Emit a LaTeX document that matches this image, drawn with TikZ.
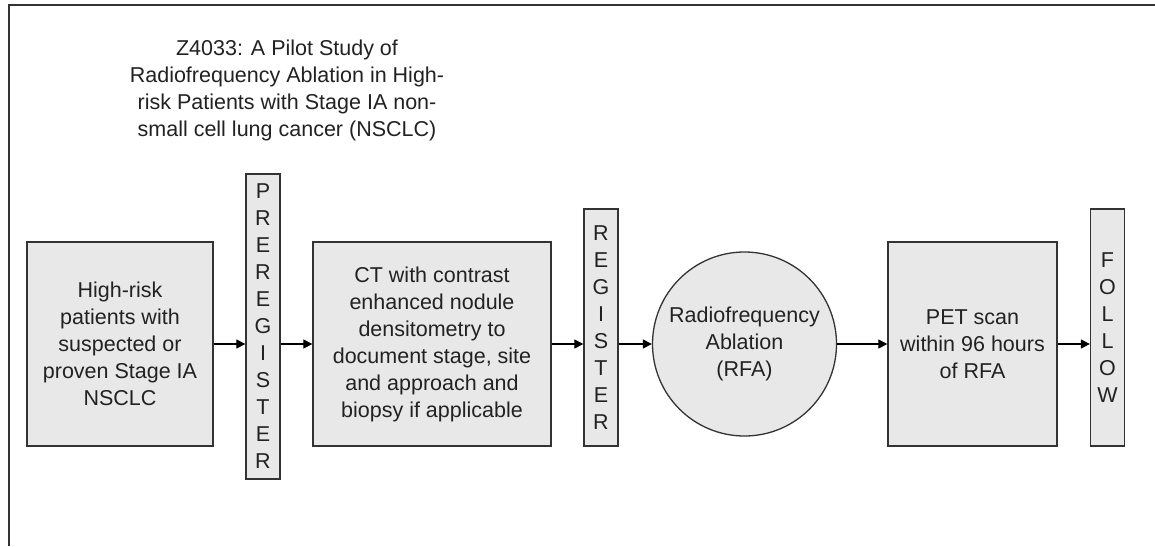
\documentclass[tikz,border=0pt]{standalone}
\usepackage{fontspec}
\setmainfont{Liberation Sans}
\usetikzlibrary{arrows.meta}
\definecolor{boxfill}{HTML}{E8E8E8}
\definecolor{edgecol}{HTML}{333333}
\definecolor{textcol}{HTML}{222222}
\tikzset{
  txt/.style={font=\fontsize{21.5}{27}\selectfont, text=textcol, align=center, inner sep=0pt},
  stepbox/.style={txt, draw=edgecol, fill=boxfill, line width=1.3pt},
  column/.style={stepbox, minimum width=34pt},
  conn/.style={draw=black, line width=1.1pt, -{Triangle[length=9pt,width=9pt]}},
}
\begin{document}
\begin{tikzpicture}[x=1pt,y=-1pt]
\useasboundingbox (0,0) rectangle (1155,546);
\fill[white] (0,0) rectangle (1155,546);
\draw[edgecol, line width=2.2pt] (9,546) -- (9,5) -- (1155,5);

\node[txt] (title) at (287,90) {Z4033: A Pilot Study of\\Radiofrequency Ablation in High-\\risk Patients with Stage IA non-\\small cell lung cancer (NSCLC)};

\node[stepbox, minimum width=186pt, minimum height=204pt] (pts) at (120,344) {High-risk\\patients with\\suspected or\\proven Stage IA\\NSCLC};
\node[column, minimum height=305pt] (prereg) at (263,326.5) {P\\R\\E\\R\\E\\G\\I\\S\\T\\E\\R};
\node[stepbox, minimum width=238pt, minimum height=204pt] (ct) at (432,344) {CT with contrast\\enhanced nodule\\densitometry to\\document stage, site\\and approach and\\biopsy if applicable};
\node[column, minimum height=237pt] (reg) at (601,327.5) {R\\E\\G\\I\\S\\T\\E\\R};
\node[stepbox, circle, minimum size=184pt] (rfa) at (744.5,344) {Radiofrequency\\Ablation\\(RFA)};
\node[stepbox, minimum width=169pt, minimum height=204pt] (pet) at (972.5,344) {PET scan\\within 96 hours\\of RFA};
\node[column, minimum height=237pt] (follow) at (1107.5,327.5) {F\\O\\L\\L\\O\\W};

\draw[conn] (pts.east) -- (pts.east -| prereg.west);
\draw[conn] (pts.east -| prereg.east) -- (ct.west);
\draw[conn] (ct.east) -- (ct.east -| reg.west);
\draw[conn] (ct.east -| reg.east) -- (rfa.west);
\draw[conn] (rfa.east) -- (pet.west);
\draw[conn] (pet.east) -- (pet.east -| follow.west);
\end{tikzpicture}
\end{document}
